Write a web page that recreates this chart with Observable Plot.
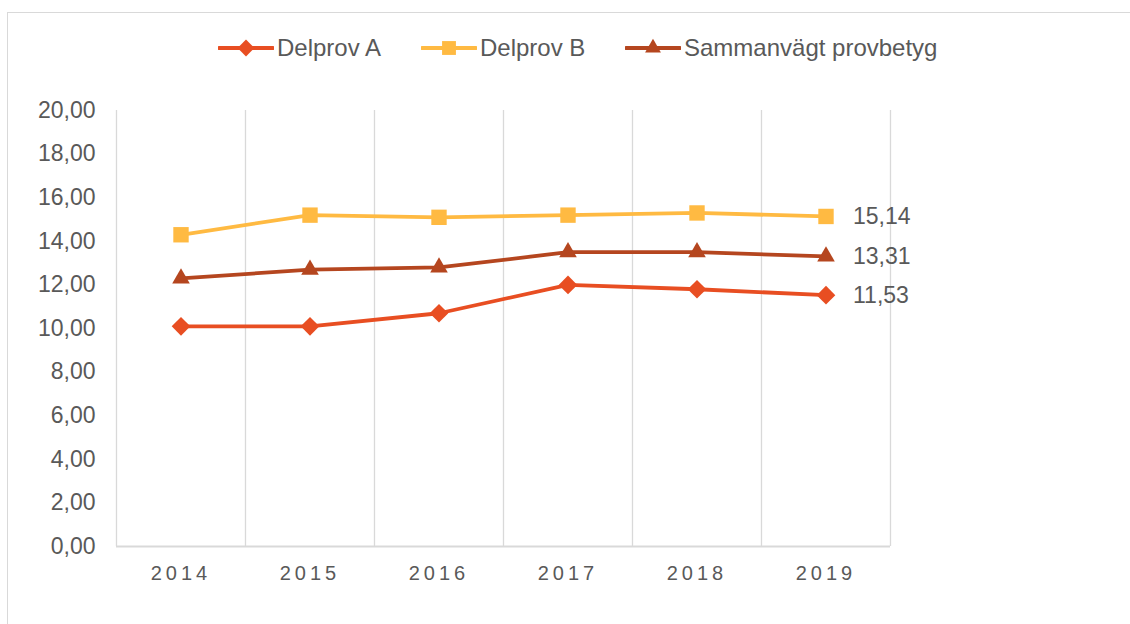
<!DOCTYPE html>
<html>
<head>
<meta charset="utf-8">
<script src="https://cdn.jsdelivr.net/npm/d3@7"></script>
<script src="https://cdn.jsdelivr.net/npm/@observablehq/plot@0.6"></script>
<style>
  body { margin: 0; background: #fff; }
  #wrap { position: relative; width: 1130px; height: 624px; overflow: hidden; font-family: "Liberation Sans", Arial, sans-serif; }
  #frame { position: absolute; left: 7px; top: 12px; width: 1300px; height: 800px; border-left: 1.5px solid #D9D9D9; border-top: 1.5px solid #D9D9D9; }
  #chart { position: absolute; left: 0; top: 0; }
  .item { position: absolute; top: 34px; display: flex; align-items: center; color: #595959; font-size: 24px; white-space: nowrap; }
  .item svg { margin-right: 3px; }
  g[aria-label="x-axis tick label"] text { letter-spacing: 4px; }
</style>
</head>
<body>
<div id="wrap">
  <div id="frame"></div>
  <div id="chart"></div>
  <div id="legend"></div>
</div>
<script>
const years = [2014, 2015, 2016, 2017, 2018, 2019];
const delprovA = [10.1, 10.1, 10.7, 12.0, 11.8, 11.53];
const delprovB = [14.3, 15.2, 15.1, 15.2, 15.3, 15.14];
const sammanvagt = [12.3, 12.7, 12.8, 13.5, 13.5, 13.31];
const yTicks = [0, 2, 4, 6, 8, 10, 12, 14, 16, 18, 20];

const series = [
  {name: "Delprov A", values: delprovA, color: "#E84E22", symbol: "diamond2", r: 8.4, lsym: d3.symbolDiamond2, left: 218},
  {name: "Delprov B", values: delprovB, color: "#FFBA42", symbol: "square2", r: 9.8, lsym: d3.symbolSquare2, left: 421},
  {name: "Sammanvägt provbetyg", values: sammanvagt, color: "#B5461F", symbol: "triangle2", r: 8.4, lsym: d3.symbolTriangle2, left: 625}
];

const fmt = v => v.toFixed(2).replace(".", ",");
const bounds = [years[0] - 0.5, ...years.map(y => y + 0.5)];

const marks = [
  Plot.ruleX(bounds, {stroke: "#D9D9D9", strokeWidth: 1.3}),
  Plot.ruleY([0], {stroke: "#D9D9D9", strokeWidth: 2}),
  Plot.axisY({ticks: yTicks, tickFormat: fmt, tickSize: 0, tickPadding: 21, fontSize: 23, fill: "#595959", label: null}),
  Plot.axisX({ticks: years, tickFormat: d => String(d), tickSize: 0, tickPadding: 19, fontSize: 20, dx: 0, fill: "#595959", label: null})
];

for (const s of series) {
  const data = years.map((y, i) => ({year: y, value: s.values[i]}));
  marks.push(Plot.line(data, {x: "year", y: "value", stroke: s.color, strokeWidth: 3.8}));
  marks.push(Plot.dot(data, {x: "year", y: "value", fill: s.color, symbol: s.symbol, r: s.r, stroke: "none"}));
  marks.push(Plot.text([data[data.length - 1]], {x: "year", y: "value", text: d => fmt(d.value), dx: 27, textAnchor: "start", fill: "#595959", fontSize: 23}));
}

const chart = Plot.plot({
  width: 1130,
  height: 624,
  marginLeft: 116,
  marginRight: 240,
  marginTop: 110,
  marginBottom: 78,
  style: {fontFamily: "'Liberation Sans', Arial, sans-serif", background: "transparent", color: "#595959"},
  x: {type: "linear", domain: [years[0] - 0.5, years[years.length - 1] + 0.5], axis: null},
  y: {domain: [0, 20], axis: null},
  marks
});
document.getElementById("chart").appendChild(chart);

// Legend
const legend = d3.select("#legend");
for (const s of series) {
  const item = legend.append("div").attr("class", "item").style("left", s.left + "px");
  const svg = item.append("svg").attr("width", 56).attr("height", 26);
  svg.append("line").attr("x1", 1).attr("x2", 55).attr("y1", 13).attr("y2", 13)
    .attr("stroke", s.color).attr("stroke-width", 3.8).attr("stroke-linecap", "round");
  svg.append("path").attr("transform", "translate(28,13)")
    .attr("d", d3.symbol(s.lsym, Math.PI * (s.r * 0.9) ** 2)())
    .attr("fill", s.color);
  item.append("span").text(s.name);
}
</script>
</body>
</html>
